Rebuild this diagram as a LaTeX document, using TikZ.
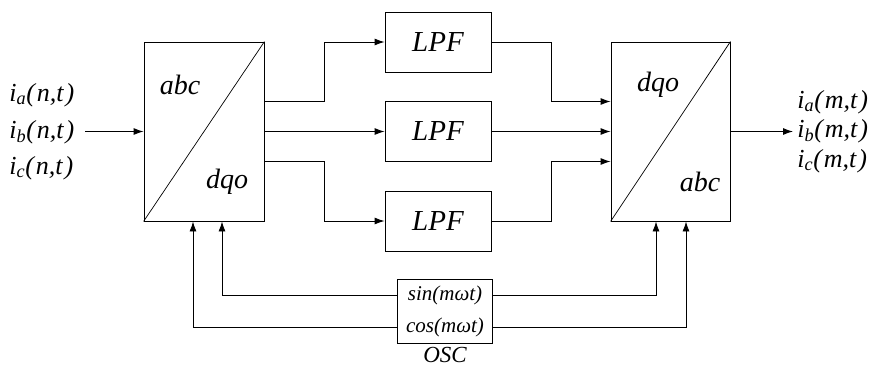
\documentclass[tikz,border=0pt]{standalone}
\usepackage{fontspec}
\setmainfont{Liberation Serif}
\usetikzlibrary{arrows.meta,calc}
\newcommand{\sigtxt}[2]{i\textsubscript{#1}(\hspace{2pt}#2,t\hspace{2pt})}
\begin{document}
\begin{tikzpicture}[x=1pt,y=-1pt,
  line width=0.9pt,
  arr/.style={-{Latex[length=10pt,width=7pt]}},
  blk/.style={draw,inner sep=0pt,minimum width=#1},
  lbl/.style={font=\fontsize{28}{30}\selectfont\itshape,inner sep=0pt},
  sig/.style={font=\fontsize{26}{36}\selectfont\itshape,inner sep=0pt,anchor=west},
]
\useasboundingbox (0,0) rectangle (885,367);
% transform blocks
\node[blk=120pt,minimum height=179pt] (L) at (204,131.5) {};
\node[blk=119pt,minimum height=179pt] (R) at (670.5,131.5) {};
\draw[line width=0.7pt] (L.south west) -- (L.north east);
\draw[line width=0.7pt] (R.south west) -- (R.north east);
\node[lbl] (La) at (180,85) {abc};
\node[lbl] (Ld) at (227,182) {dqo};
\node[lbl] (Rd) at (658,85) {dqo};
\node[lbl] (Ra) at (700,182) {abc};
% LPFs
\node[blk=106pt,minimum height=60pt,font=\fontsize{29}{30}\selectfont\itshape] (P1) at (438,42) {LPF};
\node[blk=106pt,minimum height=60pt,font=\fontsize{29}{30}\selectfont\itshape] (P2) at (438,131.5) {LPF};
\node[blk=106pt,minimum height=60pt,font=\fontsize{29}{30}\selectfont\itshape] (P3) at (438,221) {LPF};
% oscillator
\node[blk=95pt,minimum height=64pt,align=center,font=\fontsize{21}{32}\selectfont\itshape] (S) at (445,311.5) {sin(mωt)\\cos(mωt)};
\node[inner sep=0pt,text depth=0pt,font=\fontsize{23}{30}\selectfont\itshape,anchor=base] (Osc) at (445,362) {OSC};
% inputs / outputs
\node[sig] (ia) at (9,95) {\sigtxt{a}{n}};
\node[sig] (ib) at (9,132) {\sigtxt{b}{n}};
\node[sig] (ic) at (9,168) {\sigtxt{c}{n}};
\node[sig] (oa) at (797,102) {\sigtxt{a}{m}};
\node[sig] (ob) at (797,131.5) {\sigtxt{b}{m}};
\node[sig] (oc) at (797,161) {\sigtxt{c}{m}};
\coordinate (inL) at (85,131.5);
\coordinate (outR) at (793,131.5);
\draw[arr] (inL) -- (L.west);
\draw[arr] (R.east) -- (outR);
% to LPFs
\draw[arr] ([yshift=30pt]L.east) -- ++(60,0) |- (P1.west);
\draw[arr] (L.east) -- (P2.west);
\draw[arr] ([yshift=-30pt]L.east) -- ++(60,0) |- (P3.west);
% from LPFs
\draw[arr] (P1.east) -- ++(60,0) |- ([yshift=30pt]R.west);
\draw[arr] (P2.east) -- (R.west);
\draw[arr] (P3.east) -- ++(60,0) |- ([yshift=-30pt]R.west);
% oscillator feeds
\draw[arr] ([yshift=16pt]S.west) -| ([xshift=18pt]L.south);
\draw[arr] ([yshift=-16pt]S.west) -| ([xshift=-11pt]L.south);
\draw[arr] ([yshift=16pt]S.east) -| ([xshift=-14.5pt]R.south);
\draw[arr] ([yshift=-16pt]S.east) -| ([xshift=15.5pt]R.south);
\end{tikzpicture}
\end{document}
